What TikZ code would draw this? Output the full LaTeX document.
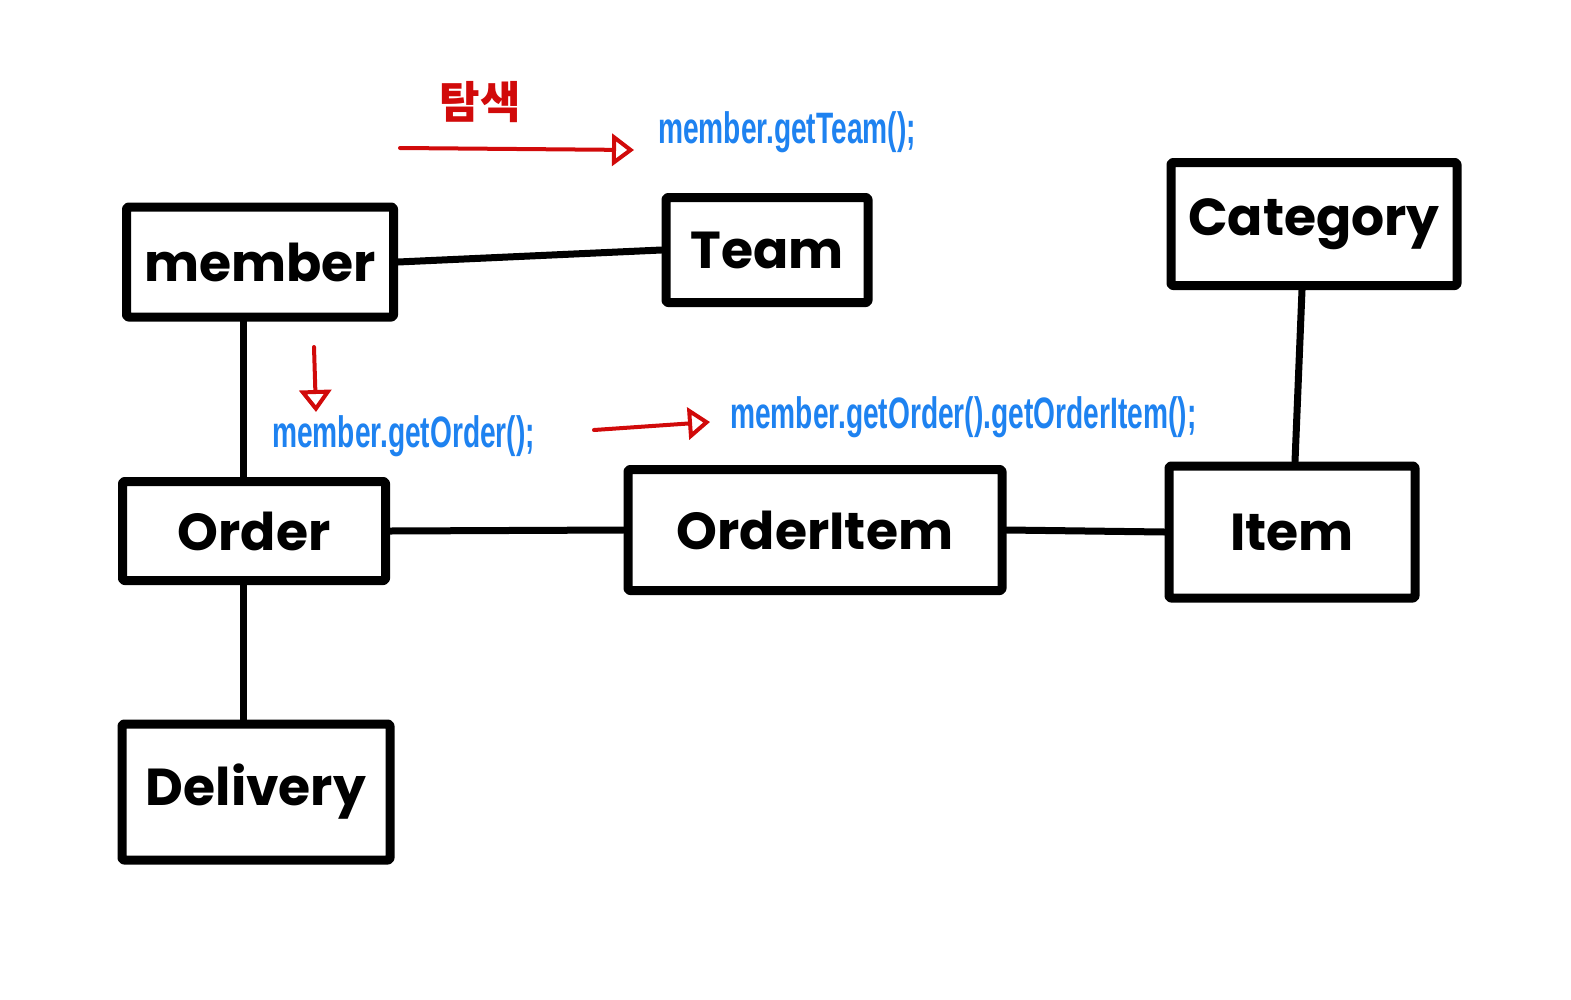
\documentclass[tikz,border=0pt]{standalone}
\usepackage{fontspec}
\usetikzlibrary{arrows.meta}
\setmainfont{Poppins}
\newfontfamily\handfont[FakeStretch=0.64]{Liberation Sans}
\newfontfamily\krfont{Noto Sans CJK KR}
\definecolor{penred}{HTML}{D10A0A}
\definecolor{penblue}{HTML}{1E82F0}
\tikzset{
  box/.style={draw, line width=9pt, line join=round, rounded corners=2pt, inner sep=0pt,
    font=\fontsize{52}{58}\selectfont\bfseries},
  link/.style={line width=7pt, line cap=round},
  hint/.style={penred, line width=4pt, line cap=round, -{Triangle[open,length=22pt,width=32pt,line width=4pt]}},
  call/.style={penblue, anchor=west, inner sep=0pt, font=\handfont\fontsize{44}{48}\selectfont\bfseries}
}
\begin{document}
\begin{tikzpicture}[x=1pt,y=-1pt]
\useasboundingbox (0,0) rectangle (1571,999);
% entities
\node[box, minimum width=267pt, minimum height=110pt] (member) at (260,262) {member};
\node[box, minimum width=202pt, minimum height=105pt] (team) at (767,250) {Team};
\node[box, minimum width=286pt, minimum height=123pt] (category) at (1314,224) {Category};
\node[box, minimum width=263pt, minimum height=99pt] (order) at (254,531) {Order};
\node[box, minimum width=374pt, minimum height=121pt] (orderitem) at (815,530) {OrderItem};
\node[box, minimum width=246pt, minimum height=132pt] (item) at (1292,532) {Item};
\node[box, minimum width=268pt, minimum height=136pt] (delivery) at (256,792) {Delivery};
% relations
\draw[link] (member.east) -- (team.west);
\draw[link] ([xshift=-17pt]member.south) -- ([xshift=-11pt]order.north);
\draw[link] ([xshift=-11pt]order.south) -- ([xshift=-13pt]delivery.north);
\draw[link] (order.east) -- (orderitem.west);
\draw[link] (orderitem.east) -- (item.west);
\draw[link] ([xshift=-12pt]category.south) -- ([xshift=3pt]item.north);
% navigation
\coordinate (t1) at (400,148);
\coordinate (t2) at (634,150);
\coordinate (d1) at (314,347);
\coordinate (d2) at (316,412);
\coordinate (o1) at (594,430);
\coordinate (o2) at (710,422);
\draw[hint] (t1) -- (t2);
\draw[hint] (d1) -- (d2);
\draw[hint] (o1) -- (o2);
\node[penred, font=\krfont\fontsize{44}{48}\selectfont\bfseries] (search) at (480,102) {탐색};
\node[call] (getteam) at (658,132) {member.getTeam();};
\node[call] (getorder) at (272,436) {member.getOrder();};
\node[call] (getitem) at (730,417) {member.getOrder().getOrderItem();};
\end{tikzpicture}
\end{document}
